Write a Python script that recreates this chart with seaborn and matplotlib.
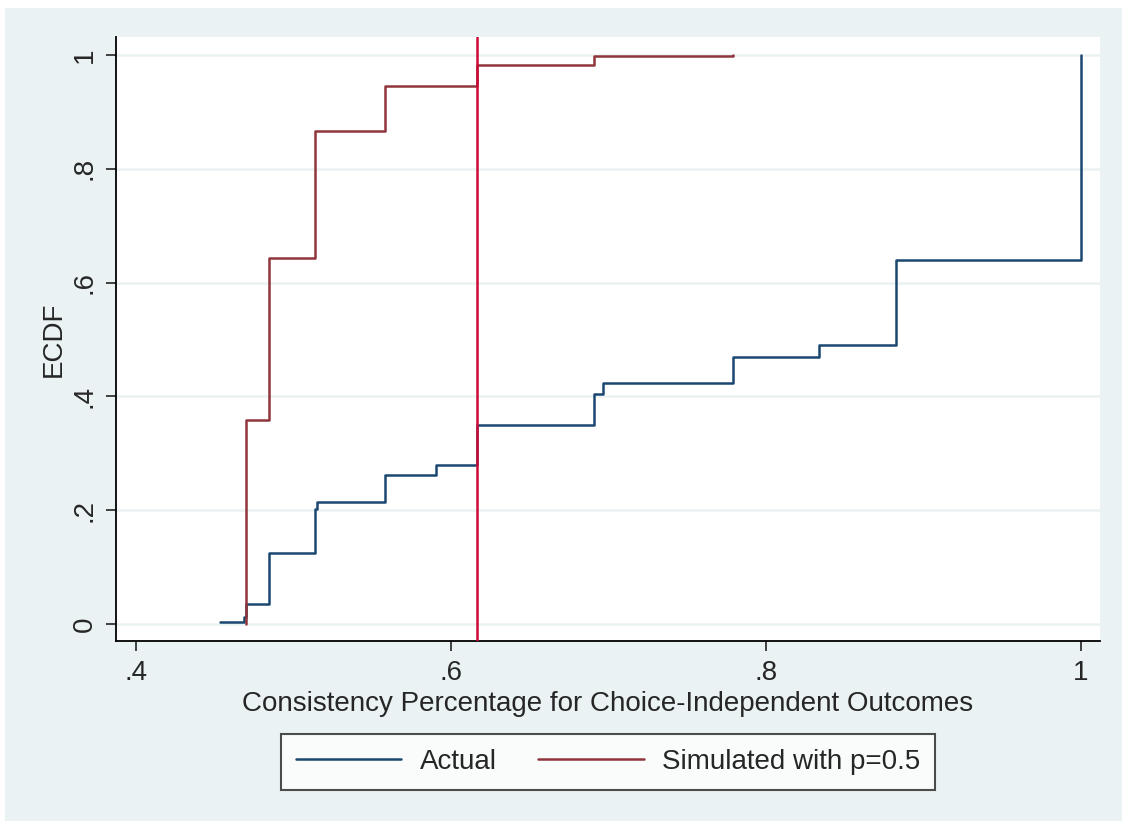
import numpy as np
import pandas as pd
import matplotlib
matplotlib.use('Agg')
import matplotlib.pyplot as plt
from matplotlib.patches import Rectangle
from matplotlib.lines import Line2D
import seaborn as sns

# step points (x = consistency share, y = ECDF after jump)
actual_x = [0.4533, 0.4686, 0.4697, 0.4842, 0.5139, 0.5147, 0.5580, 0.5903,
            0.6167, 0.6910, 0.6967, 0.7793, 0.8335, 0.8823, 1.0]
actual_y = [0.004, 0.012, 0.035, 0.124, 0.2015, 0.215, 0.262, 0.279,
            0.350, 0.4035, 0.4235, 0.470, 0.491, 0.639, 1.0]

sim_x = [0.4697, 0.4697, 0.4842, 0.5139, 0.5580, 0.6167, 0.6910, 0.7793]
sim_y = [0.0, 0.358, 0.644, 0.867, 0.946, 0.983, 0.998, 1.0]

cutoff = 0.6167

series_names = ['Actual', 'Simulated with p=0.5']
xticks = [0.4, 0.6, 0.8, 1.0]
xtick_labels = ['.4', '.6', '.8', '1']
yticks = [0, 0.2, 0.4, 0.6, 0.8, 1.0]
ytick_labels = ['0', '.2', '.4', '.6', '.8', '1']

bg = '#EAF2F3'
colors = {'Actual': '#1A476F', 'Simulated with p=0.5': '#90353B'}

df = pd.concat([
    pd.DataFrame({'x': actual_x, 'y': actual_y, 'series': series_names[0]}),
    pd.DataFrame({'x': sim_x, 'y': sim_y, 'series': series_names[1]}),
], ignore_index=True)

sns.set_style('white')
plt.rcParams['font.family'] = ['Liberation Sans', 'DejaVu Sans']

fig = plt.figure(figsize=(11.22, 8.21), dpi=100, facecolor='white')
fig.add_artist(Rectangle((5 / 1122, 0), 1, 1 - 8 / 821, transform=fig.transFigure,
                         facecolor=bg, edgecolor='none', zorder=-10))
ax = fig.add_axes([116 / 1122, 1 - 641 / 821, (1100 - 116) / 1122, (641 - 37) / 821])
ax.set_facecolor('white')

sns.lineplot(data=df, x='x', y='y', hue='series', palette=colors, estimator=None,
             sort=False, drawstyle='steps-post', linewidth=1.8, legend=False, ax=ax)
ax.axvline(cutoff, color='#CC0A35', linewidth=1.8, zorder=3)

ax.set_xlim(0.3873, 1.0121)
ax.set_ylim(-0.030, 1.0316)
ax.set_xticks(xticks)
ax.set_xticklabels(xtick_labels)
ax.set_yticks(yticks)
ax.set_yticklabels(ytick_labels, rotation=90, va='center')
for y in yticks:
    ax.axhline(y, color=bg, linewidth=1.8, zorder=0)

ax.tick_params(axis='both', which='major', direction='out', length=7, width=1.3,
               color='#333333', labelsize=20, pad=7, bottom=True, left=True)
ax.tick_params(axis='y', pad=6)

for side in ['top', 'right']:
    ax.spines[side].set_visible(False)
for side in ['left', 'bottom']:
    ax.spines[side].set_color('black')
    ax.spines[side].set_linewidth(1.3)

ax.set_xlabel('Consistency Percentage for Choice-Independent Outcomes', fontsize=20, labelpad=3)
ax.set_ylabel('ECDF', fontsize=20, labelpad=4)

handles = [Line2D([], [], color=colors[n], linewidth=1.8) for n in series_names]
leg = ax.legend(handles, series_names, loc='center', bbox_to_anchor=(0.5, -0.2),
                ncol=2, fontsize=20, frameon=True, fancybox=False, handlelength=3.8,
                columnspacing=1.5, borderpad=0.55, handletextpad=0.65)
leg.get_frame().set_edgecolor('#222222')
leg.get_frame().set_linewidth(1.5)

fig.savefig('out.png', dpi=100, facecolor=fig.get_facecolor())
